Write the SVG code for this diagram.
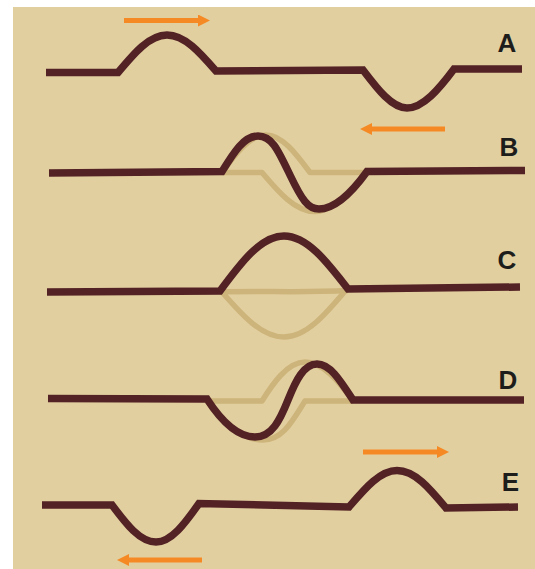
<svg xmlns="http://www.w3.org/2000/svg" width="535" height="569" viewBox="0 0 535 569">
  <defs>
    <marker id="head" markerUnits="userSpaceOnUse" markerWidth="12" markerHeight="12" refX="0" refY="6" orient="auto">
      <path d="M0,0 L12,6 L0,12 z" fill="#f58a24"/>
    </marker>
    <style>
      .rope { fill: none; stroke: #532224; stroke-width: 7.5; stroke-linejoin: miter; stroke-linecap: butt; }
      .ghost { fill: none; stroke: #cdb47a; stroke-width: 5.5; stroke-linejoin: round; stroke-linecap: butt; }
      .arrow { fill: none; stroke: #f58a24; stroke-width: 5; marker-end: url(#head); }
      .label { font-family: "Liberation Sans", Arial, sans-serif; font-weight: bold; font-size: 26px; fill: #1d1d1b; text-anchor: middle; }
    </style>
  </defs>

  <!-- panel -->
  <rect x="13" y="7" width="522" height="562" fill="#e2cfa0"/>

  <!-- A: two separate pulses -->
  <g id="rowA">
    <path class="rope" d="M46,72.5 L118,72.5 C134,53.3 149.3,35 167,35 C184.7,35 200,52.6 216,71 L363,70 C377.8,89.5 392,108 407,108 C423,108 439.2,88.9 454,69 L522,69"/>
    <text class="label" x="507" y="52">A</text>
  </g>

  <!-- B: pulses starting to overlap -->
  <g id="rowB">
    <path class="ghost" d="M222,172.5 C236,153 250,135 266,135 C282,135 295.7,153.3 310,172.5 L367,172.5"/>
    <path class="ghost" d="M222,172.5 L262,172.5 C279,192.7 295.5,211.5 314.5,211.5 C333.5,211.5 350,192.7 367,172.5"/>
    <path class="rope" d="M49,173 L222,171.5 C234,152 244,136 258,136 C272,136 278,150 290,175 C302,200 308,209 319,209 C333,209 350,195 367,171.5 L525,170.5"/>
    <text class="label" x="509" y="156">B</text>
  </g>

  <!-- C: full overlap -->
  <g id="rowC">
    <path class="ghost" d="M220,292 C260,290.5 300,293 348,290.5"/>
    <path class="ghost" d="M222,292 C242,315 261.6,337 284,337 C306.4,337 325.8,314 346,290"/>
    <path class="rope" d="M47,292 L220,291 C240.9,262.8 260.8,236 284,236 C307.2,236 327.1,261.9 348,289 L520,287"/>
    <text class="label" x="507" y="268.5">C</text>
  </g>

  <!-- D: pulses separating -->
  <g id="rowD">
    <path class="ghost" d="M207,401 C222,420 240,440 263,440 C283,440 293,420 305,401 L353,401"/>
    <path class="ghost" d="M207,401 L262,401 C272,385 287,362 305,362 C322,362 338,380 353,401"/>
    <path class="rope" d="M48,398.5 L207,399 C218,416 235,437 255,437 C272,437 280,420 288,400 C296,380 304,364 317,364 C330,364 340,380 353,400 L524,400"/>
    <text class="label" x="508" y="388.5">D</text>
  </g>

  <!-- E: pulses apart again -->
  <g id="rowE">
    <path class="rope" d="M42,505 L112,505 C126.2,524 139.8,542 156,542 C171.2,542 184.8,523.7 199,503.5 L349,507 C364.8,488.6 379.9,470.5 397,470.5 C415.1,470.5 430.2,489 446,508 L518,507"/>
    <text class="label" x="510.5" y="491">E</text>
  </g>

  <!-- direction arrows -->
  <g id="connectors">
    <line class="arrow" x1="124" y1="20.5" x2="198" y2="20.5"/>
    <line class="arrow" x1="445" y1="129" x2="372" y2="129"/>
    <line class="arrow" x1="363" y1="452" x2="437" y2="452"/>
    <line class="arrow" x1="202" y1="560" x2="129" y2="560"/>
  </g>
</svg>
